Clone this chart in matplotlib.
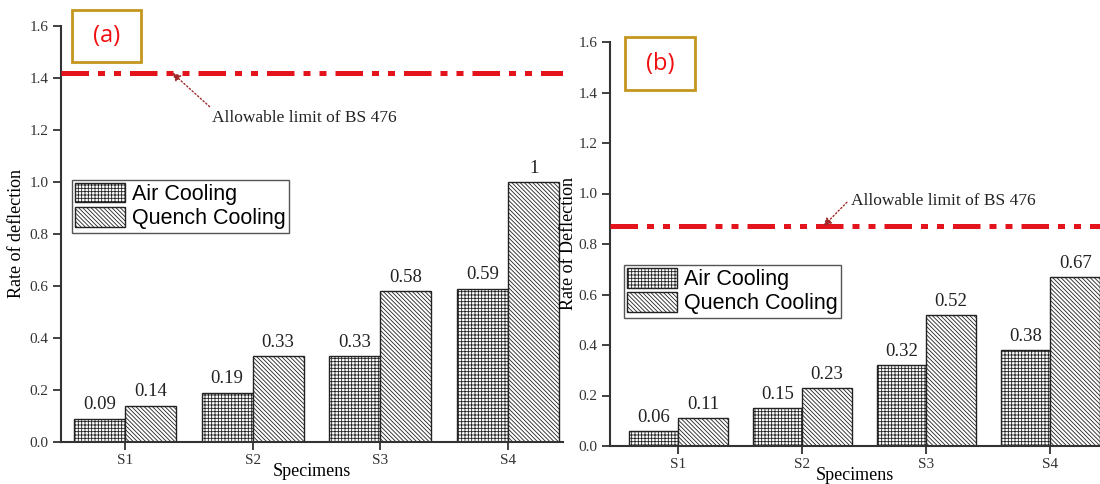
import numpy as np
import matplotlib
matplotlib.use('Agg')
import matplotlib.pyplot as plt
from matplotlib.patches import Rectangle

# dados
specimens = ['S1', 'S2', 'S3', 'S4']
air_a = [0.09, 0.19, 0.33, 0.59]
quench_a = [0.14, 0.33, 0.58, 1.0]
air_b = [0.06, 0.15, 0.32, 0.38]
quench_b = [0.11, 0.23, 0.52, 0.67]
limit_a = 1.42
limit_b = 0.87
yticks = [0.0, 0.2, 0.4, 0.6, 0.8, 1.0, 1.2, 1.4, 1.6]

plt.rcParams['hatch.linewidth'] = 0.6
plt.rcParams['hatch.color'] = '#333333'
serif = 'Liberation Serif'
sans = 'Liberation Sans'

fig = plt.figure(figsize=(11, 4.84), dpi=100)
ax_a = fig.add_axes([61/1100, 42/484, 502/1100, 416/484])
ax_b = fig.add_axes([610/1100, 38/484, 490/1100, 404/484])

x = np.arange(1, len(specimens) + 1)
w = 0.4


def painel(ax, air, quench, limit, ylabel, xlim, leg_anchor, arrow_xy, text_xy, ypad):
    b1 = ax.bar(x - w/2, air, w, facecolor='white', edgecolor='#222222',
                linewidth=1, hatch='+++++', label='Air Cooling')
    b2 = ax.bar(x + w/2, quench, w, facecolor='white', edgecolor='#222222',
                linewidth=1, hatch='\\' * 8, label='Quench Cooling')
    for bars, vals in [(b1, air), (b2, quench)]:
        for r, v in zip(bars, vals):
            ax.text(r.get_x() + r.get_width()/2, v + 0.02, f'{v:g}',
                    ha='center', va='bottom', family=serif, fontsize=13.5,
                    color='#222222')
    ax.axhline(limit, color='#E3141C', linewidth=3.6,
               dashes=(5.5, 1.8, 1.4, 1.8, 1.4, 1.8), zorder=3)
    ax.annotate('Allowable limit of BS 476', xy=arrow_xy, xytext=text_xy,
                family=serif, fontsize=12.5, color='#222222',
                ha='left', va='center',
                arrowprops=dict(arrowstyle='-|>', linestyle=':', color='#A02828',
                                lw=1, mutation_scale=12, shrinkA=1, shrinkB=0,
                                relpos=(0.02, 0.9)))
    ax.set_xlim(*xlim)
    ax.set_ylim(0, 1.6)
    ax.set_xticks(x)
    ax.set_xticklabels(specimens, family=serif, fontsize=11)
    ax.set_yticks(yticks)
    ax.set_yticklabels([f'{t:.1f}' for t in yticks], family=serif, fontsize=11)
    ax.set_xlabel('Specimens', family=serif, fontsize=13, labelpad=-3)
    ax.set_ylabel(ylabel, family=serif, fontsize=13, labelpad=ypad)
    for s in ['top', 'right']:
        ax.spines[s].set_visible(False)
    for s in ['left', 'bottom']:
        ax.spines[s].set_linewidth(1.5)
        ax.spines[s].set_color('#333333')
    ax.tick_params(direction='out', length=6, width=1.3, color='#333333',
                   labelcolor='#333333', pad=3)
    leg = ax.legend(loc='upper left', bbox_to_anchor=leg_anchor, borderaxespad=0,
                    prop={'family': sans, 'size': 15.5}, fancybox=False,
                    edgecolor='#555555', framealpha=1, handlelength=2.3,
                    handleheight=1.0, labelspacing=0.1, borderpad=0.15,
                    handletextpad=0.35)
    leg.get_frame().set_linewidth(1)


painel(ax_a, air_a, quench_a, limit_a, 'Rate of deflection', (0.5, 4.43),
       (0.022, 0.63), (1.37, limit_a), (1.68, 1.245), 3)
painel(ax_b, air_b, quench_b, limit_b, 'Rate of Deflection', (0.45, 4.4),
       (0.029, 0.448), (2.17, limit_b), (2.39, 0.97), 1)

# caixas (a) e (b)
for (x0, y0, x1, y1, lab) in [(72, 10, 141, 62, '(a)'), (625, 37, 695, 90, '(b)')]:
    fig.patches.append(Rectangle((x0/1100, 1 - y1/484), (x1 - x0)/1100, (y1 - y0)/484,
                                 transform=fig.transFigure, fill=False,
                                 edgecolor='#C4961E', linewidth=2))
    fig.text((x0 + x1)/2/1100, 1 - (y0 + y1)/2/484, lab, ha='center', va='center',
             color='#F01010', fontsize=17, family=['Open Sans', 'DejaVu Sans'])

fig.savefig('out.png', dpi=100)
